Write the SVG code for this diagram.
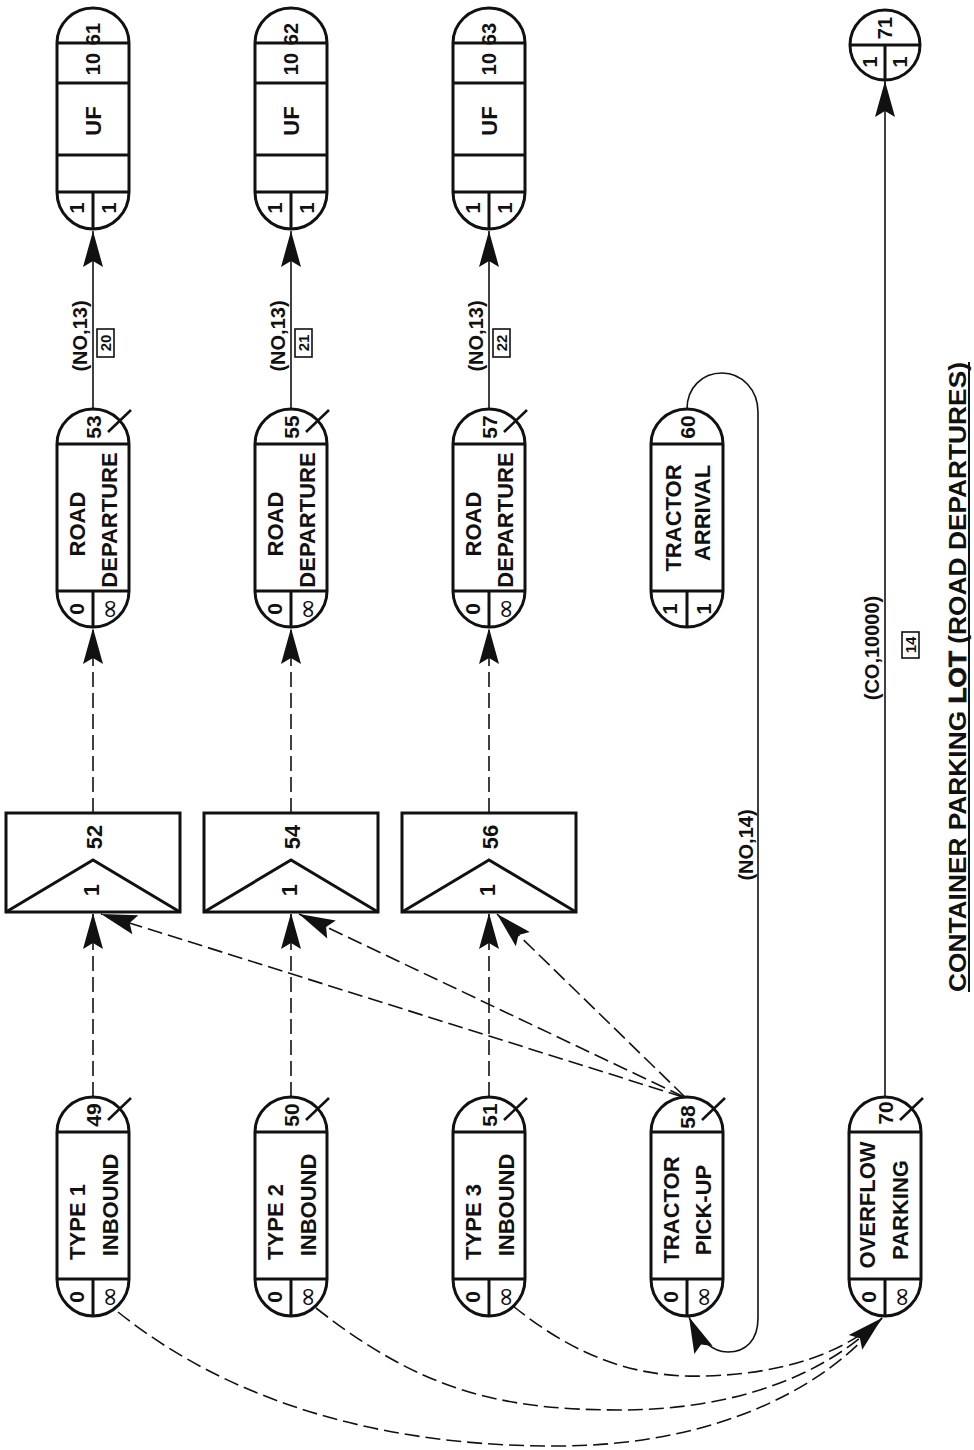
<svg xmlns="http://www.w3.org/2000/svg" width="974" height="1450" viewBox="0 0 974 1450">
<defs>
<style>
.nd{fill:#fff;stroke:#111;stroke-width:3}
.ln{fill:none;stroke:#111;stroke-width:3}
.xm{fill:none;stroke:#111;stroke-width:2.5}
.c{fill:none;stroke:#111;stroke-width:1.6}
.d{stroke-dasharray:15 6}
text{font-family:"Liberation Sans",Arial,sans-serif;font-weight:bold;fill:#111;text-anchor:middle;dominant-baseline:central}
.lb{font-size:22px}
.nm{font-size:21px}
.sm{font-size:20px}
.inf{font-family:"DejaVu Sans",sans-serif;font-weight:normal;font-size:26px}
.el{font-size:20px}
.bn{font-size:15px}
.bx{fill:none;stroke:#111;stroke-width:1.6}
.cap{font-size:24px;text-anchor:start;font-weight:bold}
</style>
<marker id="ah" viewBox="-40 -12 41 24" refX="0" refY="0" markerWidth="41" markerHeight="24" markerUnits="userSpaceOnUse" orient="auto">
<path d="M0,0 L-36,-10 L-30,0 L-36,10 Z" fill="#111"/>
</marker>
</defs>
<rect width="974" height="1450" fill="#fff"/>

<g id="connectors">
<path class="c" d="M93,409 V231" marker-end="url(#ah)"/>
<path class="c" d="M291,409 V231" marker-end="url(#ah)"/>
<path class="c" d="M489,409 V231" marker-end="url(#ah)"/>
<path class="c d" d="M93,813 V628" marker-end="url(#ah)"/>
<path class="c d" d="M291,813 V628" marker-end="url(#ah)"/>
<path class="c d" d="M489,813 V628" marker-end="url(#ah)"/>
<path class="c d" d="M93,1097 V913" marker-end="url(#ah)"/>
<path class="c d" d="M291,1097 V913" marker-end="url(#ah)"/>
<path class="c d" d="M489,1097 V913" marker-end="url(#ah)"/>
<path class="c d" d="M683,1097 L101,914" marker-end="url(#ah)"/>
<path class="c d" d="M684,1097 L299,914" marker-end="url(#ah)"/>
<path class="c d" d="M685,1097 L497,914" marker-end="url(#ah)"/>
<path class="c" d="M885,1097 V81" marker-end="url(#ah)"/>
<path class="c" d="M687,409 C687,388 702,373 722,373 C742,373 758,390 758,412 L758,1318 C758,1340 746,1352 728,1352 C713,1352 700,1342 689,1317" marker-end="url(#ah)"/>
<path class="c d" d="M118,1312 C240,1410 400,1447 560,1446 C720,1445 830,1385 882,1318"/>
<path class="c d" d="M316,1308 C420,1390 500,1410 620,1410 C740,1410 830,1372 882,1318"/>
<path class="c d" d="M513,1306 C580,1360 640,1378 705,1376 C785,1374 845,1352 882,1318" marker-end="url(#ah)"/>
<text class="el" transform="translate(80,336) rotate(-90)">(NO,13)</text>
<rect class="bx" x="97" y="329" width="17" height="28"/>
<text class="bn" transform="translate(105.5,343) rotate(-90)">20</text>
<text class="el" transform="translate(278,336) rotate(-90)">(NO,13)</text>
<rect class="bx" x="295" y="329" width="17" height="28"/>
<text class="bn" transform="translate(303.5,343) rotate(-90)">21</text>
<text class="el" transform="translate(476,336) rotate(-90)">(NO,13)</text>
<rect class="bx" x="493" y="329" width="17" height="28"/>
<text class="bn" transform="translate(501.5,343) rotate(-90)">22</text>
<text class="el" transform="translate(746,845) rotate(-90)">(NO,14)</text>
<text class="el" transform="translate(872,648) rotate(-90)">(CO,10000)</text>
<rect class="bx" x="902" y="632" width="17" height="26"/>
<text class="bn" transform="translate(910.5,645) rotate(-90)">14</text>
</g>

<g id="n61" transform="translate(93,0)">
<path class="nd" d="M-36,43 A36,35 0 0 1 36,43 L36,192 A36,37 0 0 1 -36,192 Z"/>
<path class="ln" d="M-36,43 H36 M-36,83 H36 M-36,155 H36 M-36,192 H36 M0,192 V229"/>
<text class="sm" transform="translate(0,34) rotate(-90)">61</text>
<text class="sm" transform="translate(0,64) rotate(-90)">10</text>
<text class="lb" transform="translate(0,121) rotate(-90)">UF</text>
<text class="sm" transform="translate(-16,208) rotate(-90)">1</text>
<text class="sm" transform="translate(16,208) rotate(-90)">1</text>
</g>
<g id="n62" transform="translate(291,0)">
<path class="nd" d="M-36,43 A36,35 0 0 1 36,43 L36,192 A36,37 0 0 1 -36,192 Z"/>
<path class="ln" d="M-36,43 H36 M-36,83 H36 M-36,155 H36 M-36,192 H36 M0,192 V229"/>
<text class="sm" transform="translate(0,34) rotate(-90)">62</text>
<text class="sm" transform="translate(0,64) rotate(-90)">10</text>
<text class="lb" transform="translate(0,121) rotate(-90)">UF</text>
<text class="sm" transform="translate(-16,208) rotate(-90)">1</text>
<text class="sm" transform="translate(16,208) rotate(-90)">1</text>
</g>
<g id="n63" transform="translate(489,0)">
<path class="nd" d="M-36,43 A36,35 0 0 1 36,43 L36,192 A36,37 0 0 1 -36,192 Z"/>
<path class="ln" d="M-36,43 H36 M-36,83 H36 M-36,155 H36 M-36,192 H36 M0,192 V229"/>
<text class="sm" transform="translate(0,34) rotate(-90)">63</text>
<text class="sm" transform="translate(0,64) rotate(-90)">10</text>
<text class="lb" transform="translate(0,121) rotate(-90)">UF</text>
<text class="sm" transform="translate(-16,208) rotate(-90)">1</text>
<text class="sm" transform="translate(16,208) rotate(-90)">1</text>
</g>
<g id="n71">
<circle class="nd" cx="885" cy="45" r="35"/>
<path class="ln" d="M850,45 H920 M885,45 V80"/>
<text class="sm" transform="translate(885,28) rotate(-90)">71</text>
<text class="sm" transform="translate(870,62) rotate(-90)">1</text>
<text class="sm" transform="translate(900,62) rotate(-90)">1</text>
</g>

<g id="n53" transform="translate(93,0)">
<path class="nd" d="M-36,444 A36,35 0 0 1 36,444 L36,591 A36,36 0 0 1 -36,591 Z"/>
<path class="ln" d="M-36,444 H36 M-36,591 H36 M0,591 V627"/>
<path class="xm" d="M15,432 L38,410"/>
<text class="nm" transform="translate(0,427) rotate(-90)">53</text>
<text class="lb" transform="translate(-16,524) rotate(-90)">ROAD</text>
<text class="lb" transform="translate(16,520) rotate(-90)">DEPARTURE</text>
<text class="nm" transform="translate(-17,609) rotate(-90)">0</text>
<text class="inf" transform="translate(16,609) rotate(-90)">∞</text>
</g>
<g id="n55" transform="translate(291,0)">
<path class="nd" d="M-36,444 A36,35 0 0 1 36,444 L36,591 A36,36 0 0 1 -36,591 Z"/>
<path class="ln" d="M-36,444 H36 M-36,591 H36 M0,591 V627"/>
<path class="xm" d="M15,432 L38,410"/>
<text class="nm" transform="translate(0,427) rotate(-90)">55</text>
<text class="lb" transform="translate(-16,524) rotate(-90)">ROAD</text>
<text class="lb" transform="translate(16,520) rotate(-90)">DEPARTURE</text>
<text class="nm" transform="translate(-17,609) rotate(-90)">0</text>
<text class="inf" transform="translate(16,609) rotate(-90)">∞</text>
</g>
<g id="n57" transform="translate(489,0)">
<path class="nd" d="M-36,444 A36,35 0 0 1 36,444 L36,591 A36,36 0 0 1 -36,591 Z"/>
<path class="ln" d="M-36,444 H36 M-36,591 H36 M0,591 V627"/>
<path class="xm" d="M15,432 L38,410"/>
<text class="nm" transform="translate(0,427) rotate(-90)">57</text>
<text class="lb" transform="translate(-16,524) rotate(-90)">ROAD</text>
<text class="lb" transform="translate(16,520) rotate(-90)">DEPARTURE</text>
<text class="nm" transform="translate(-17,609) rotate(-90)">0</text>
<text class="inf" transform="translate(16,609) rotate(-90)">∞</text>
</g>
<g id="n60" transform="translate(687,0)">
<path class="nd" d="M-36,444 A36,35 0 0 1 36,444 L36,591 A36,36 0 0 1 -36,591 Z"/>
<path class="ln" d="M-36,444 H36 M-36,591 H36 M0,591 V627"/>
<text class="nm" transform="translate(0,427) rotate(-90)">60</text>
<text class="lb" transform="translate(-14,518) rotate(-90)">TRACTOR</text>
<text class="lb" transform="translate(15,513) rotate(-90)">ARRIVAL</text>
<text class="sm" transform="translate(-17,609) rotate(-90)">1</text>
<text class="sm" transform="translate(17,609) rotate(-90)">1</text>
</g>

<g id="n52" transform="translate(93,0)">
<rect class="ln" x="-87" y="813" width="174" height="99"/>
<path class="ln" d="M-87,912 L0,860 L87,912"/>
<text class="lb" transform="translate(1,837) rotate(-90)">52</text>
<text class="lb" transform="translate(-2,890) rotate(-90)">1</text>
</g>
<g id="n54" transform="translate(291,0)">
<rect class="ln" x="-87" y="813" width="174" height="99"/>
<path class="ln" d="M-87,912 L0,860 L87,912"/>
<text class="lb" transform="translate(1,837) rotate(-90)">54</text>
<text class="lb" transform="translate(-2,890) rotate(-90)">1</text>
</g>
<g id="n56" transform="translate(489,0)">
<rect class="ln" x="-87" y="813" width="174" height="99"/>
<path class="ln" d="M-87,912 L0,860 L87,912"/>
<text class="lb" transform="translate(1,837) rotate(-90)">56</text>
<text class="lb" transform="translate(-2,890) rotate(-90)">1</text>
</g>

<g id="n49" transform="translate(93,0)">
<path class="nd" d="M-36,1132 A36,35 0 0 1 36,1132 L36,1279 A36,37 0 0 1 -36,1279 Z"/>
<path class="ln" d="M-36,1132 H36 M-36,1279 H36 M0,1279 V1316"/>
<path class="xm" d="M15,1120 L38,1098"/>
<text class="nm" transform="translate(0,1115) rotate(-90)">49</text>
<text class="lb" transform="translate(-16,1222) rotate(-90)">TYPE 1</text>
<text class="lb" transform="translate(17,1205) rotate(-90)">INBOUND</text>
<text class="nm" transform="translate(-17,1297) rotate(-90)">0</text>
<text class="inf" transform="translate(16,1297) rotate(-90)">∞</text>
</g>
<g id="n50" transform="translate(291,0)">
<path class="nd" d="M-36,1132 A36,35 0 0 1 36,1132 L36,1279 A36,37 0 0 1 -36,1279 Z"/>
<path class="ln" d="M-36,1132 H36 M-36,1279 H36 M0,1279 V1316"/>
<path class="xm" d="M15,1120 L38,1098"/>
<text class="nm" transform="translate(0,1115) rotate(-90)">50</text>
<text class="lb" transform="translate(-16,1222) rotate(-90)">TYPE 2</text>
<text class="lb" transform="translate(17,1205) rotate(-90)">INBOUND</text>
<text class="nm" transform="translate(-17,1297) rotate(-90)">0</text>
<text class="inf" transform="translate(16,1297) rotate(-90)">∞</text>
</g>
<g id="n51" transform="translate(489,0)">
<path class="nd" d="M-36,1132 A36,35 0 0 1 36,1132 L36,1279 A36,37 0 0 1 -36,1279 Z"/>
<path class="ln" d="M-36,1132 H36 M-36,1279 H36 M0,1279 V1316"/>
<path class="xm" d="M15,1120 L38,1098"/>
<text class="nm" transform="translate(0,1115) rotate(-90)">51</text>
<text class="lb" transform="translate(-16,1222) rotate(-90)">TYPE 3</text>
<text class="lb" transform="translate(17,1205) rotate(-90)">INBOUND</text>
<text class="nm" transform="translate(-17,1297) rotate(-90)">0</text>
<text class="inf" transform="translate(16,1297) rotate(-90)">∞</text>
</g>
<g id="n58" transform="translate(687,0)">
<path class="nd" d="M-36,1132 A36,35 0 0 1 36,1132 L36,1279 A36,37 0 0 1 -36,1279 Z"/>
<path class="ln" d="M-36,1132 H36 M-36,1279 H36 M0,1279 V1316"/>
<path class="xm" d="M15,1120 L38,1098"/>
<text class="nm" transform="translate(0,1117) rotate(-90)">58</text>
<text class="lb" transform="translate(-16,1210) rotate(-90)">TRACTOR</text>
<text class="lb" transform="translate(16,1210) rotate(-90)">PICK-UP</text>
<text class="nm" transform="translate(-17,1297) rotate(-90)">0</text>
<text class="inf" transform="translate(16,1297) rotate(-90)">∞</text>
</g>
<g id="n70" transform="translate(885,0)">
<path class="nd" d="M-36,1132 A36,35 0 0 1 36,1132 L36,1279 A36,37 0 0 1 -36,1279 Z"/>
<path class="ln" d="M-36,1132 H36 M-36,1279 H36 M0,1279 V1316"/>
<path class="xm" d="M15,1120 L38,1098"/>
<text class="nm" transform="translate(0,1113) rotate(-90)">70</text>
<text class="lb" transform="translate(-18,1205) rotate(-90)">OVERFLOW</text>
<text class="lb" transform="translate(15,1210) rotate(-90)">PARKING</text>
<text class="nm" transform="translate(-17,1297) rotate(-90)">0</text>
<text class="inf" transform="translate(16,1297) rotate(-90)">∞</text>
</g>

<g id="caption">
<text class="cap" transform="translate(957,992) rotate(-90)" textLength="630" lengthAdjust="spacingAndGlyphs">CONTAINER PARKING <tspan stroke="#111" stroke-width="0.8">LOT</tspan> (ROAD DEPARTURES)</text>
<line x1="969" y1="992" x2="969" y2="362" stroke="#111" stroke-width="2"/>
</g>
</svg>
